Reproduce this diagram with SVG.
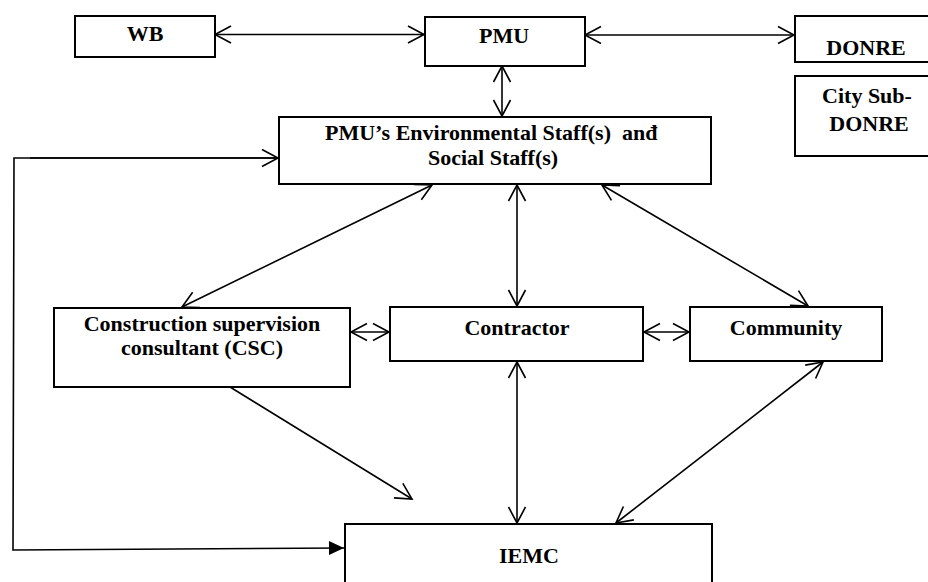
<svg xmlns="http://www.w3.org/2000/svg" width="928" height="582" viewBox="0 0 928 582">
<style>
.box{fill:#fff;stroke:#000;stroke-width:2}
.t{font-family:"Liberation Serif","Times New Roman",serif;font-weight:bold;font-size:22px;fill:#000;white-space:pre}
.m{text-anchor:middle}
.c{fill:none;stroke:#000;stroke-width:1.6}
</style>
<defs>
<marker id="ah" viewBox="-18 -10 20 20" refX="0" refY="0" markerWidth="20" markerHeight="20" markerUnits="userSpaceOnUse" orient="auto-start-reverse">
<path d="M-16,-8.5 L0,0 L-16,8.5" fill="none" stroke="#000" stroke-width="1.6"/>
</marker>
<marker id="fh" viewBox="-16 -8 17 16" refX="0" refY="0" markerWidth="17" markerHeight="16" markerUnits="userSpaceOnUse" orient="auto">
<path d="M-15,-7 L0,0 L-15,7 Z" fill="#000"/>
</marker>
</defs>
<rect width="928" height="582" fill="#fff"/>
<g id="connectors">
<line class="c" x1="215" y1="34.5" x2="424" y2="34.5" marker-start="url(#ah)" marker-end="url(#ah)"/>
<line class="c" x1="585" y1="35" x2="794" y2="35" marker-start="url(#ah)" marker-end="url(#ah)"/>
<line class="c" x1="502" y1="66" x2="502" y2="116" marker-start="url(#ah)" marker-end="url(#ah)"/>
<line class="c" x1="432" y1="185" x2="182" y2="307" marker-start="url(#ah)" marker-end="url(#ah)"/>
<line class="c" x1="517" y1="185" x2="517" y2="306" marker-start="url(#ah)" marker-end="url(#ah)"/>
<line class="c" x1="602" y1="185" x2="808" y2="306" marker-start="url(#ah)" marker-end="url(#ah)"/>
<line class="c" x1="351" y1="332" x2="389" y2="332" marker-start="url(#ah)" marker-end="url(#ah)"/>
<line class="c" x1="644" y1="332" x2="689" y2="332" marker-start="url(#ah)" marker-end="url(#ah)"/>
<line class="c" x1="230" y1="387" x2="412" y2="499" marker-end="url(#ah)"/>
<line class="c" x1="517" y1="362" x2="517" y2="523" marker-start="url(#ah)" marker-end="url(#ah)"/>
<line class="c" x1="823" y1="362" x2="616" y2="523" marker-start="url(#ah)" marker-end="url(#ah)"/>
<polyline class="c" points="278,158 14,158 13,550 344,548" marker-end="url(#fh)"/>
<line class="c" x1="30" y1="158" x2="278" y2="158" marker-end="url(#ah)"/>
</g>
<g id="wb"><rect class="box" x="75" y="16" width="140" height="41"/><text class="t m" x="145" y="41">WB</text></g>
<g id="pmu"><rect class="box" x="425" y="17" width="160" height="49"/><text class="t m" x="504" y="43">PMU</text></g>
<g id="donre"><rect class="box" x="795" y="16" width="140" height="46"/><text class="t m" x="866" y="55">DONRE</text></g>
<g id="city-sub-donre"><rect class="box" x="795" y="76" width="140" height="80"/><text class="t m" x="867" y="103">City Sub-</text><text class="t m" x="869" y="131">DONRE</text></g>
<g id="pmu-staff"><rect class="box" x="279" y="117" width="432" height="67"/><text class="t" x="325" y="140" xml:space="preserve">PMU’s Environmental Staff(s)  anđ</text><text class="t" x="428" y="165">Social Staff(s)</text></g>
<g id="csc"><rect class="box" x="54" y="308" width="296" height="79"/><text class="t m" x="202" y="331">Construction supervision</text><text class="t m" x="202" y="355">consultant (CSC)</text></g>
<g id="contractor"><rect class="box" x="390" y="307" width="253" height="54"/><text class="t m" x="517" y="335">Contractor</text></g>
<g id="community"><rect class="box" x="690" y="307" width="192" height="54"/><text class="t m" x="786" y="335">Community</text></g>
<g id="iemc"><rect class="box" x="345" y="524" width="367" height="70"/><text class="t m" x="529" y="563">IEMC</text></g>
</svg>
